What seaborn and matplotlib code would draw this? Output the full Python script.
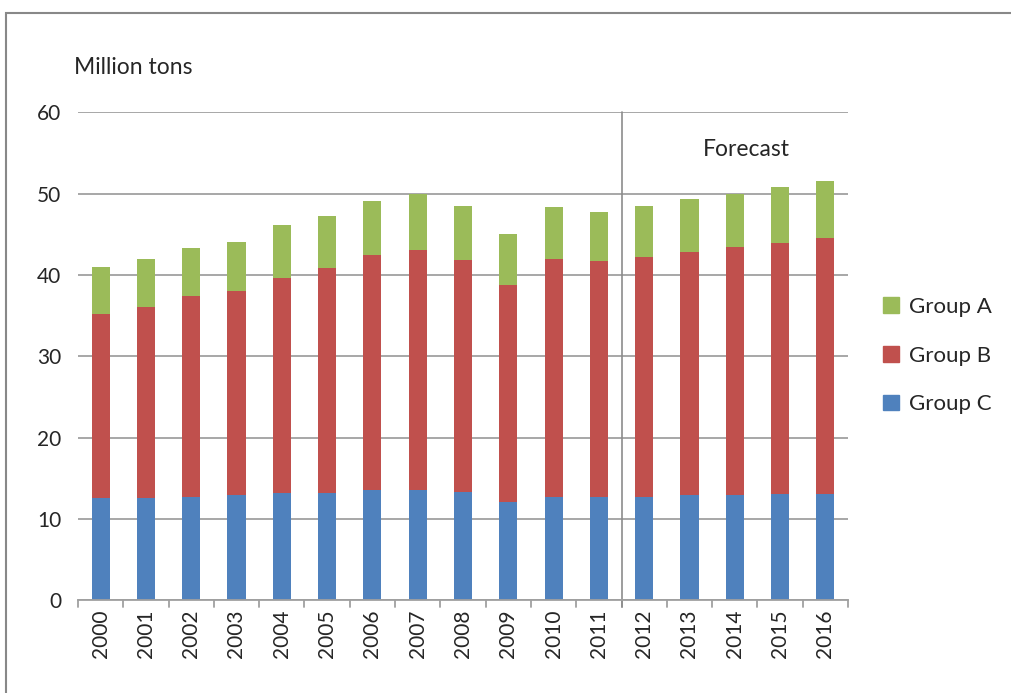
import pandas as pd
import matplotlib
matplotlib.use("Agg")
import matplotlib.pyplot as plt
from matplotlib.patches import Patch, Rectangle
import seaborn as sns

years = [str(y) for y in range(2000, 2017)]
group_c = [12.5, 12.5, 12.7, 12.9, 13.2, 13.2, 13.6, 13.6, 13.3, 12.1, 12.7, 12.7, 12.7, 12.9, 12.9, 13.0, 13.0]
group_b = [22.7, 23.6, 24.7, 25.1, 26.4, 27.7, 28.9, 29.5, 28.5, 26.7, 29.3, 29.0, 29.5, 29.9, 30.5, 30.9, 31.5]
group_a = [5.8, 5.9, 5.9, 6.0, 6.5, 6.4, 6.6, 6.8, 6.7, 6.2, 6.3, 6.0, 6.3, 6.5, 6.6, 6.9, 7.1]

# Farben wie Excel 2007
COL_A = "#9BBB59"
COL_B = "#C0504D"
COL_C = "#4F81BD"

sns.set_style("white")
plt.rcParams['font.family'] = ['Lato', 'DejaVu Sans']

df = pd.DataFrame({"year": years, "C": group_c, "B": group_b, "A": group_a})
df["BC"] = df["C"] + df["B"]
df["ABC"] = df["BC"] + df["A"]

fig = plt.figure(figsize=(10.12, 6.93), dpi=100)
ax = fig.add_axes([0.077, 0.134, 0.761, 0.704])

# gestapelte Balken: Summen uebereinander zeichnen
for col, c in [("ABC", COL_A), ("BC", COL_B), ("C", COL_C)]:
    sns.barplot(data=df, x="year", y=col, color=c, width=0.4, ax=ax,
                saturation=1, linewidth=0)

ax.set_ylim(0, 60)
ax.set_xlim(-0.5, len(years) - 0.5)
ax.set_yticks(range(0, 61, 10))
ax.yaxis.grid(True, color="#A0A0A0", linewidth=1.3)
ax.set_axisbelow(True)
ax.set_xlabel("")
ax.set_ylabel("")

for s in ["top", "right", "left"]:
    ax.spines[s].set_visible(False)
ax.spines["bottom"].set_color("#A0A0A0")
ax.spines["bottom"].set_linewidth(1.3)

ax.set_xticks(range(len(years)))
ax.set_xticklabels(years, rotation=90, fontsize=15)
ax.tick_params(axis="x", length=0, pad=7)
ax.tick_params(axis="y", length=0, labelsize=15, pad=12)

# Teilstriche zwischen den Kategorien
for i in range(len(years) + 1):
    ax.plot([i - 0.5, i - 0.5], [0, -0.9], color="#A0A0A0", lw=1.3, clip_on=False)

# Trennlinie Prognose
ax.plot([11.5, 11.5], [-0.9, 60], color="#8C8C8C", lw=1.2, clip_on=False)
ax.text(14.25, 55.4, "Forecast", fontsize=16.5, ha="center", va="center")

fig.text(0.073, 0.902, "Million tons", fontsize=16.5, ha="left", va="center")

handles = [Patch(color=COL_A, label="Group A"),
           Patch(color=COL_B, label="Group B"),
           Patch(color=COL_C, label="Group C")]
fig.legend(handles=handles, loc="center left", bbox_to_anchor=(0.853, 0.487),
           frameon=False, fontsize=16, handlelength=0.7, handleheight=0.7,
           handletextpad=0.45, labelspacing=1.3)

# Rahmen um das Diagramm
fig.patches.append(Rectangle((0.006, -0.05), 1.1, 1.031, transform=fig.transFigure,
                             fill=False, edgecolor="#888888", linewidth=1.5))

fig.savefig("out.png", dpi=100)
